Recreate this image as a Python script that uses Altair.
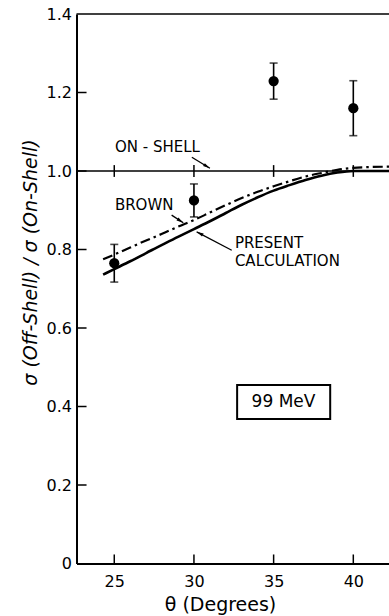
import math
import altair as alt
import pandas as pd

# ---- data -------------------------------------------------------------
# measured off-shell / on-shell ratio with error bars
theta_pts = [25, 30, 35, 40]
ratio_pts = [0.765, 0.925, 1.229, 1.160]
ratio_err = [0.048, 0.042, 0.046, 0.070]

# calculated curves
theta_curve = [24.3, 25, 26, 27, 28, 29, 30, 31, 32, 33, 34, 35, 36, 37, 38, 39, 40, 41, 42.24]
present_calc = [0.736, 0.750, 0.770, 0.791, 0.812, 0.832, 0.852, 0.872, 0.893, 0.914,
                0.933, 0.950, 0.964, 0.977, 0.988, 0.996, 1.000, 1.000, 1.000]
brown_calc = [0.775, 0.787, 0.805, 0.823, 0.840, 0.858, 0.875, 0.894, 0.913, 0.931,
              0.947, 0.961, 0.974, 0.986, 0.995, 1.003, 1.008, 1.010, 1.011]

x_ticks = [25, 30, 35, 40]
y_ticks = [0, 0.2, 0.4, 0.6, 0.8, 1.0, 1.2, 1.4]

# ---- layout -----------------------------------------------------------
X_MIN, X_MAX = 22.63, 42.24
Y_MIN, Y_MAX = 0.0, 1.4
W, H = 312.5, 549.5
PX_X = W / (X_MAX - X_MIN)
PX_Y = H / (Y_MAX - Y_MIN)
FONT = "DejaVu Sans"

xs = alt.Scale(domain=[X_MIN, X_MAX], nice=False, zero=False)
ys = alt.Scale(domain=[Y_MIN, Y_MAX], nice=False, zero=False)

x_axis = alt.Axis(
    values=x_ticks, ticks=False, grid=False, domainColor="black", domainWidth=2,
    labelFontSize=16, labelColor="black", labelPadding=10, labelFont=FONT,
    title="θ (Degrees)", titleFont=FONT, titleFontSize=19, titleFontWeight="normal",
    titleColor="black", titleX=143.5, titleY=41, titleBaseline="middle",
    titleAlign="center")
y_axis = alt.Axis(
    values=y_ticks, ticks=False, grid=False, domainColor="black", domainWidth=2,
    labelFontSize=16, labelColor="black", labelPadding=5, labelFont=FONT,
    labelExpr="datum.value == 0 ? '0' : format(datum.value, '.1f')",
    title="σ (Off-Shell) / σ (On-Shell)", titleFont=FONT, titleFontSize=19,
    titleFontStyle="italic", titleFontWeight="normal", titleColor="black",
    titleAngle=270, titleX=-46.5, titleY=248, titleAlign="center",
    titleBaseline="middle")


def xf(field):
    return alt.X(field, type="quantitative", scale=xs, axis=x_axis)


def yf(field):
    return alt.Y(field, type="quantitative", scale=ys, axis=y_axis)


def xd(v):
    return alt.XDatum(v, scale=xs, axis=x_axis)


def yd(v):
    return alt.YDatum(v, scale=ys, axis=y_axis)


one_row = pd.DataFrame({"k": [0]})

# frame line along the top
top_line = alt.Chart(one_row).mark_rule(color="black", strokeWidth=1.5).encode(
    x=xd(X_MIN), x2=alt.X2Datum(X_MAX), y=yd(Y_MAX))

# inward tick marks
xtick_df = pd.DataFrame({"t": x_ticks})
ytick_df = pd.DataFrame({"v": y_ticks[1:-1]})
x_tick_marks = alt.Chart(xtick_df).mark_rule(color="black", strokeWidth=1.5).encode(
    x=xf("t"), y=yd(0.0), y2=alt.Y2Datum(0.023))
y_tick_marks = alt.Chart(ytick_df).mark_rule(color="black", strokeWidth=1.5).encode(
    y=yf("v"), x=xd(X_MIN), x2=alt.X2Datum(X_MIN + 0.63))

# on-shell reference line with crossing ticks
on_shell = alt.Chart(one_row).mark_rule(color="black", strokeWidth=1.5).encode(
    x=xd(X_MIN), x2=alt.X2Datum(X_MAX), y=yd(1.0))
on_shell_ticks = alt.Chart(xtick_df).mark_rule(color="black", strokeWidth=1.5).encode(
    x=xf("t"), y=yd(0.985), y2=alt.Y2Datum(1.015))

# ---- curves -----------------------------------------------------------
curve_df = pd.DataFrame({"t": theta_curve, "present": present_calc, "brown": brown_calc})
present_line = alt.Chart(curve_df).mark_line(
    color="black", strokeWidth=2.6, interpolate="monotone").encode(
    x=xf("t"), y=yf("present"))
brown_line = alt.Chart(curve_df).mark_line(
    color="black", strokeWidth=2.2, interpolate="monotone",
    strokeDash=[10, 4, 2.5, 4]).encode(
    x=xf("t"), y=yf("brown"))

# ---- data points --------------------------------------------------------
pts_df = pd.DataFrame({
    "t": theta_pts,
    "r": ratio_pts,
    "lo": [r - e for r, e in zip(ratio_pts, ratio_err)],
    "hi": [r + e for r, e in zip(ratio_pts, ratio_err)],
})
err_bars = alt.Chart(pts_df).mark_rule(color="black", strokeWidth=1.6).encode(
    x=xf("t"), y=yf("lo"), y2="hi")
caps_lo = alt.Chart(pts_df).mark_tick(
    color="black", orient="horizontal", size=8, thickness=1.6).encode(
    x=xf("t"), y=yf("lo"))
caps_hi = alt.Chart(pts_df).mark_tick(
    color="black", orient="horizontal", size=8, thickness=1.6).encode(
    x=xf("t"), y=yf("hi"))
points = alt.Chart(pts_df).mark_circle(color="black", size=105, opacity=1).encode(
    x=xf("t"), y=yf("r"))

# ---- annotations --------------------------------------------------------
label_text = ["ON - SHELL", "BROWN", "PRESENT", "CALCULATION"]
label_x = [25.04, 25.04, 32.57, 32.57]
label_y = [1.061, 0.913, 0.817, 0.770]
labels_df = pd.DataFrame({"txt": label_text, "t": label_x, "r": label_y})
labels = alt.Chart(labels_df).mark_text(
    align="left", baseline="middle", font=FONT, fontSize=15, color="black").encode(
    x=xf("t"), y=yf("r"), text="txt:N")

# leader arrows: start -> tip
arrow_x0 = [29.87, 28.60, 32.37]
arrow_y0 = [1.035, 0.8875, 0.798]
arrow_x1 = [31.00, 29.33, 30.17]
arrow_y1 = [1.007, 0.868, 0.845]
arrow_ang = []
for a, b, c, d in zip(arrow_x0, arrow_y0, arrow_x1, arrow_y1):
    dx = (c - a) * PX_X
    dy = -(d - b) * PX_Y
    arrow_ang.append(math.degrees(math.atan2(dx, -dy)) % 360)
arrows_df = pd.DataFrame({"x0": arrow_x0, "y0": arrow_y0, "x1": arrow_x1,
                          "y1": arrow_y1, "ang": arrow_ang})
arrow_shafts = alt.Chart(arrows_df).mark_rule(color="black", strokeWidth=1.3).encode(
    x=xf("x0"), y=yf("y0"), x2="x1", y2="y1")
arrow_heads = alt.Chart(arrows_df).mark_point(
    shape="M0,0L0.55,2.2L-0.55,2.2Z", filled=True, color="black", opacity=1,
    size=40).encode(
    x=xf("x1"), y=yf("y1"), angle=alt.Angle("ang:Q", scale=None))

# energy label in a box
box = alt.Chart(one_row).mark_rect(fill="white", stroke="black", strokeWidth=2).encode(
    x=xd(32.71), x2=alt.X2Datum(38.55), y=yd(0.4545), y2=alt.Y2Datum(0.368))
box_text = alt.Chart(one_row).mark_text(
    text="99 MeV", align="center", baseline="middle", font=FONT, fontSize=17,
    color="black").encode(x=xd(35.62), y=yd(0.411))

chart = alt.layer(
    top_line, x_tick_marks, y_tick_marks, on_shell, on_shell_ticks,
    brown_line, present_line, err_bars, caps_lo, caps_hi, points,
    arrow_shafts, arrow_heads, labels, box, box_text,
).properties(
    width=W, height=H,
    autosize=alt.AutoSizeParams(type="none"),
    padding={"left": 76.5, "top": 14, "right": 0, "bottom": 52.5},
    background="white",
).configure_view(strokeWidth=0)

chart.save("out.html", embed_options={"renderer": "svg", "actions": False})
